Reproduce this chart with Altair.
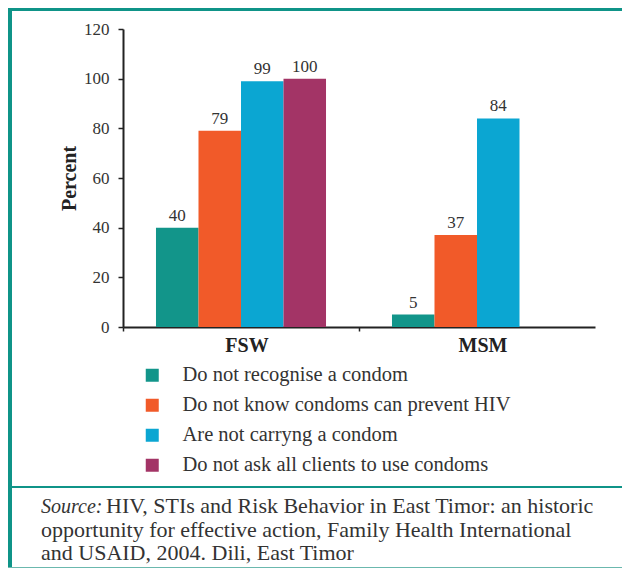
import altair as alt
import pandas as pd

# ---- data ----
groups = ["FSW", "MSM"]
series = [
    "Do not recognise a condom",
    "Do not know condoms can prevent HIV",
    "Are not carryng a condom",
    "Do not ask all clients to use condoms",
]
fsw_values = [40, 79, 99, 100]
msm_values = [5, 37, 84]
colors = ["#12958a", "#f15a29", "#0ba6d2", "#a33466"]
y_ticks = [0, 20, 40, 60, 80, 100, 120]
y_title = "Percent"
source_label = "Source:"
source_lines = [
    "HIV, STIs and Risk Behavior in East Timor: an historic",
    "opportunity for effective action, Family Health International",
    "and USAID, 2004. Dili, East Timor",
]

SERIF = "Liberation Serif"
TEAL = "#0f9488"

rows = []
for s, v in zip(series, fsw_values):
    rows.append({"group": "FSW", "series": s, "value": v})
for s, v in zip(series, msm_values):
    rows.append({"group": "MSM", "series": s, "value": v})
df = pd.DataFrame(rows)

W, H = 472, 298

x_enc = alt.X(
    "group:N",
    sort=groups,
    scale=alt.Scale(paddingInner=0, paddingOuter=0),
    axis=alt.Axis(
        title=None,
        labelFont=SERIF,
        labelFontSize=20,
        labelFontWeight="bold",
        labelColor="#222222",
        labelAngle=0,
        labelPadding=4,
        labelOffset=6,
        bandPosition=0,
        ticks=True,
        tickSize=4,
        tickWidth=1.5,
        tickColor="#222222",
        domainColor="#222222",
        domainWidth=2,
        grid=False,
    ),
)
xoff_enc = alt.XOffset(
    "series:N", sort=series, scale=alt.Scale(paddingOuter=0.776, paddingInner=0)
)
y_enc = alt.Y(
    "value:Q",
    scale=alt.Scale(domain=[0, 120], nice=False),
    axis=alt.Axis(
        values=y_ticks,
        title=y_title,
        titleFont=SERIF,
        titleFontSize=20,
        titleFontWeight="bold",
        titleColor="#222222",
        titleAngle=-90,
        titleX=-48,
        titleY=149,
        titleBaseline="alphabetic",
        titleAlign="center",
        labelFont=SERIF,
        labelFontSize=17,
        labelColor="#333333",
        labelPadding=9,
        tickSize=5,
        tickWidth=1.5,
        tickColor="#222222",
        domainColor="#222222",
        domainWidth=2,
        grid=False,
    ),
)

bars = (
    alt.Chart(df)
    .mark_bar()
    .encode(
        x=x_enc,
        xOffset=xoff_enc,
        y=y_enc,
        color=alt.Color(
            "series:N",
            sort=series,
            scale=alt.Scale(domain=series, range=colors),
            legend=alt.Legend(
                title=None,
                orient="none",
                legendX=19,
                legendY=336,
                direction="vertical",
                padding=0,
                symbolType="square",
                symbolSize=169,
                symbolStrokeWidth=0,
                labelFont=SERIF,
                labelFontSize=20.5,
                labelColor="#333333",
                labelOffset=20,
                rowPadding=9,
                labelLimit=500,
            ),
        ),
    )
)

labels = (
    alt.Chart(df)
    .mark_text(dy=-7, baseline="alphabetic", font=SERIF, fontSize=17, color="#333333")
    .encode(x=alt.X("group:N", sort=groups), xOffset=alt.XOffset("series:N", sort=series),
            y=alt.Y("value:Q"), text=alt.Text("value:Q"))
)

one = pd.DataFrame({"k": [0]})

def rect(x1, x2, y1, y2, color):
    return alt.Chart(one).mark_rect(color=color).encode(
        x=alt.value(x1), x2=alt.value(x2), y=alt.value(y1), y2=alt.value(y2)
    )

frame = [
    rect(-115, 499, -21, -18, TEAL),
    rect(-115, -111, -21, 539, TEAL),
    rect(-115, 499, 457, 459, TEAL),
    rect(-115, 499, 538, 539, "#6bb8ae"),
]

SRC_SIZE = 22
src_label = alt.Chart(one).mark_text(
    align="left", baseline="alphabetic", font=SERIF, fontSize=20,
    fontStyle="italic", color="#333333", text=source_label
).encode(x=alt.value(-82), y=alt.value(484))

src_texts = []
for i, line in enumerate(source_lines):
    src_texts.append(
        alt.Chart(one).mark_text(
            align="left", baseline="alphabetic", font=SERIF, fontSize=SRC_SIZE,
            color="#333333", text=line
        ).encode(x=alt.value(-17 if i == 0 else -82), y=alt.value(484 + 23.5 * i))
    )

chart = (
    alt.layer(bars, labels, *frame, src_label, *src_texts)
    .properties(
        width=W,
        height=H,
        autosize=alt.AutoSizeParams(type="none"),
        padding={"left": 115, "top": 21, "right": 27, "bottom": 241},
        background="white",
    )
    .configure_view(stroke=None)
)

chart.save("out.html", embed_options={"renderer": "svg", "actions": False})
